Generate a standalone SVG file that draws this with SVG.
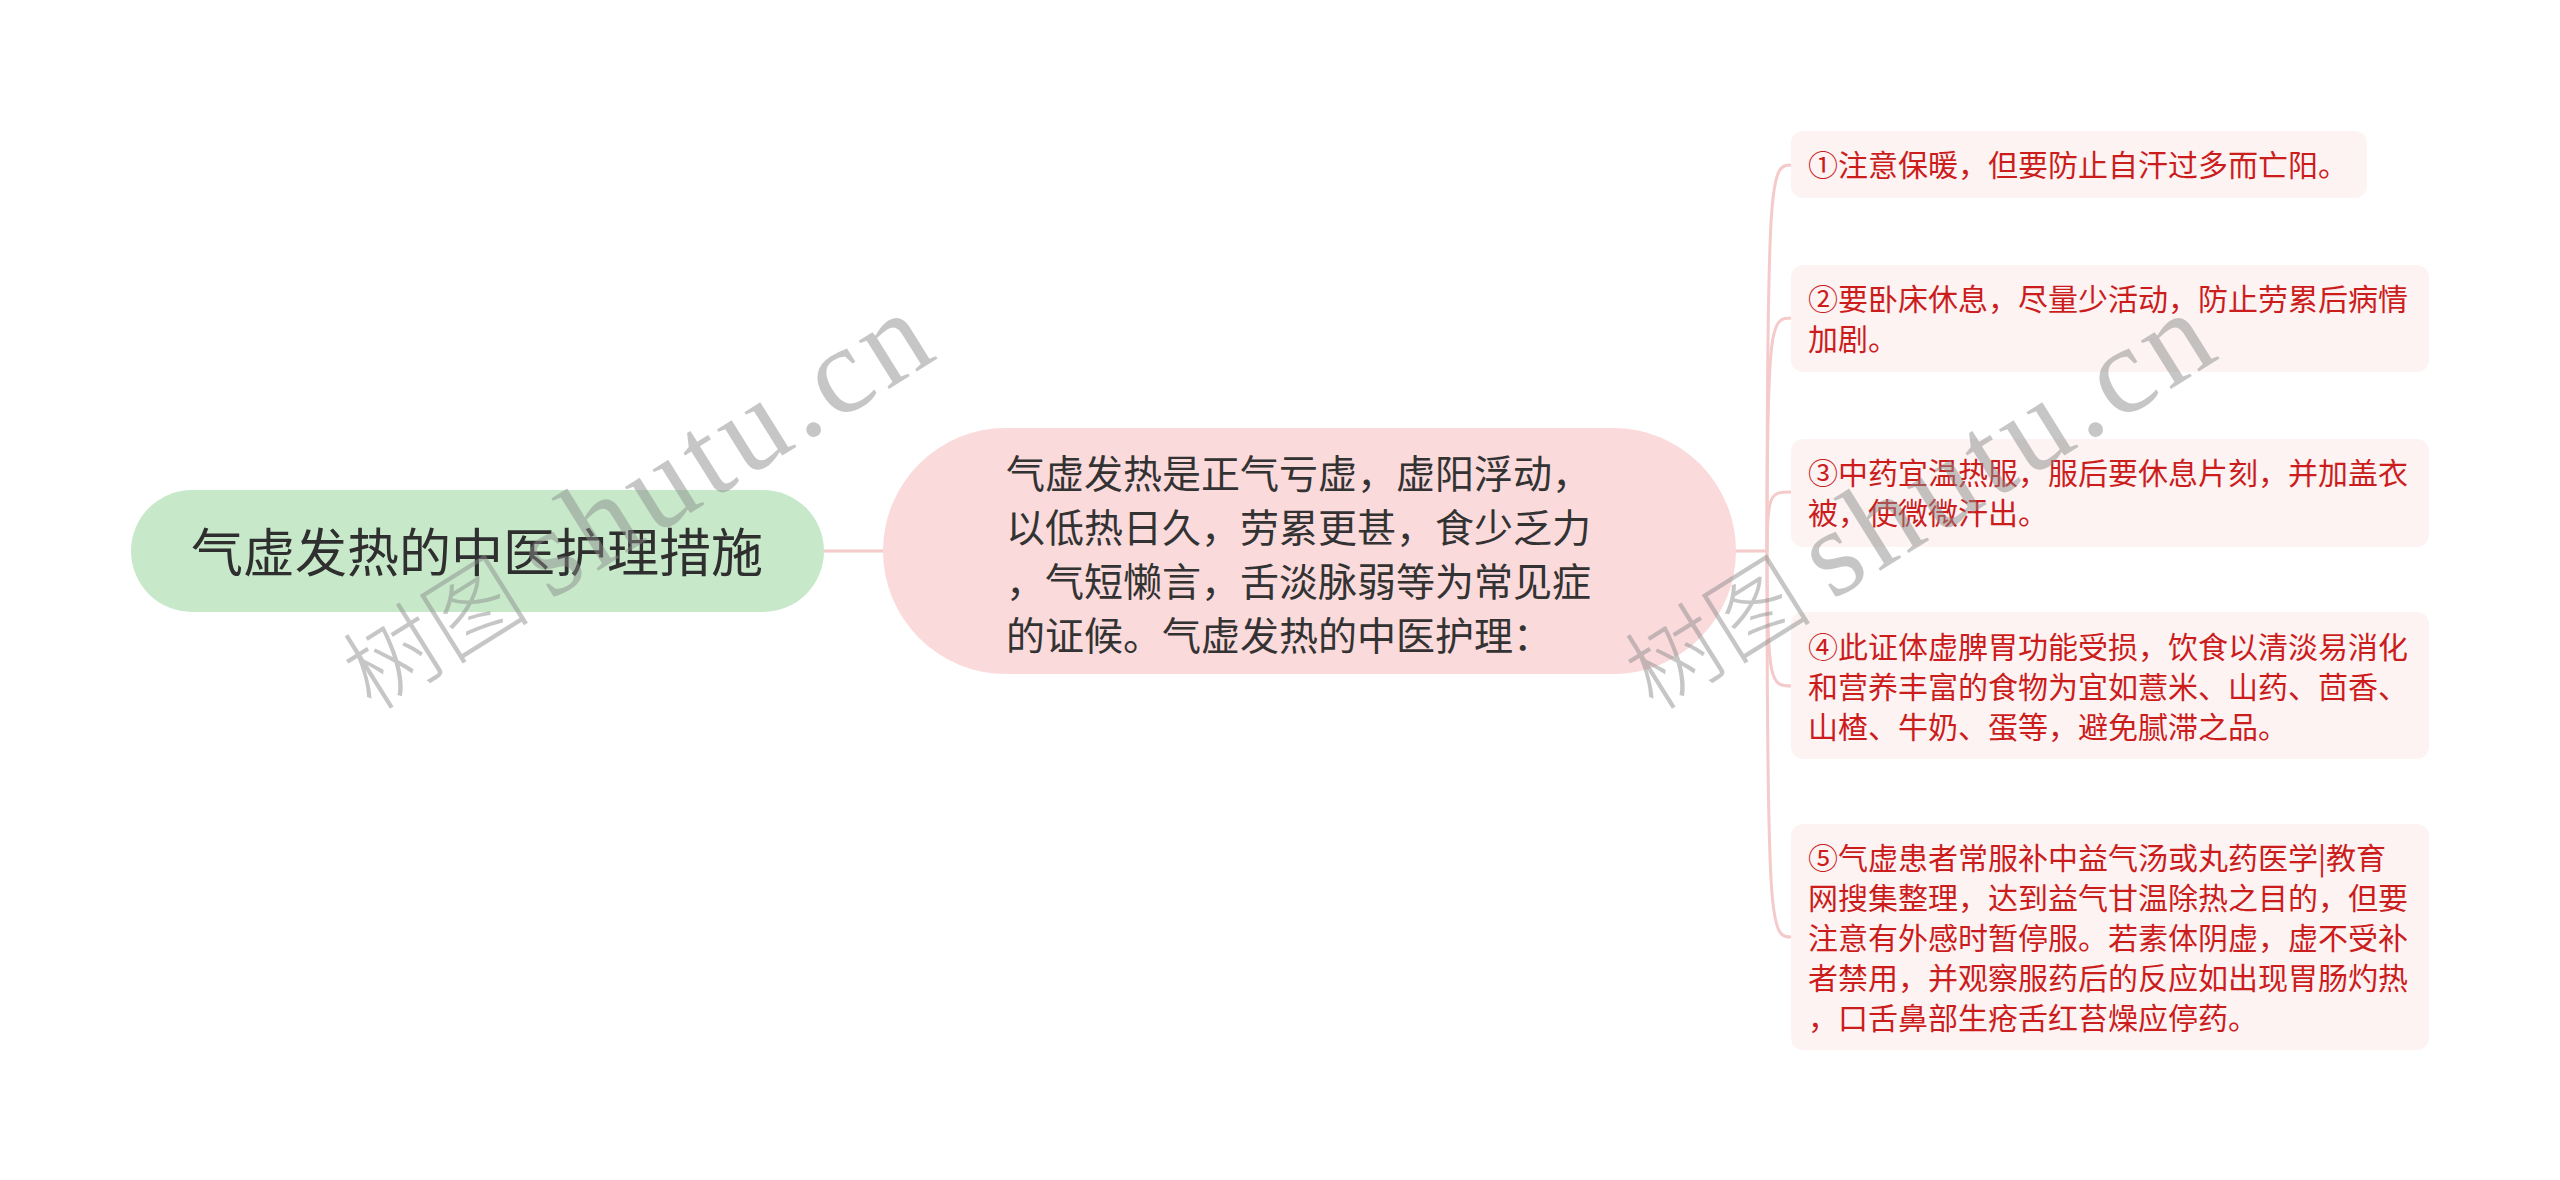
<svg xmlns="http://www.w3.org/2000/svg" width="2560" height="1180" viewBox="0 0 2560 1180">
<style>
.cjk{font-family:"Noto Sans CJK SC","Noto Sans",sans-serif;}
.root-t{font-size:52px;fill:#2f2f2f;}
.main-t{font-size:39px;fill:#333333;}
.leaf-t{font-size:30px;fill:#cc1d1d;}
.leaf{fill:#fdf3f3;}
.conn{fill:none;stroke:#f4caca;stroke-width:3;}
.wm{fill:#8a8a8a;opacity:0.48;}
</style>
<rect width="2560" height="1180" fill="#ffffff"/>
<g id="connectors">
<path class="conn" d="M824 551 H884"/>
<path class="conn" d="M1734 551 H1767"/>
<path class="conn" d="M1767 551 C1767 165 1771 165 1792 165"/>
<path class="conn" d="M1767 551 C1767 318 1771 318 1792 318"/>
<path class="conn" d="M1767 551 C1767 492 1771 492 1792 492"/>
<path class="conn" d="M1767 551 C1767 686 1771 686 1792 686"/>
<path class="conn" d="M1767 551 C1767 937 1771 937 1792 937"/>
</g>
<g id="root">
<rect x="131" y="490" width="693" height="122" rx="61" fill="#c7e9ca"/>
<text class="cjk root-t" x="477" y="572" text-anchor="middle">气虚发热的中医护理措施</text>
</g>
<g id="main">
<rect x="883" y="428" width="853" height="246" rx="123" fill="#fadadb"/>
<text class="cjk main-t">
<tspan x="1006" y="488">气虚发热是正气亏虚，虚阳浮动，</tspan>
<tspan x="1006" y="542">以低热日久，劳累更甚，食少乏力</tspan>
<tspan x="1006" y="596">，气短懒言，舌淡脉弱等为常见症</tspan>
<tspan x="1006" y="650">的证候。气虚发热的中医护理：</tspan>
</text>
</g>
<g id="item1">
<rect class="leaf" x="1791" y="131" width="576" height="67" rx="12"/>
<text class="cjk leaf-t" x="1808" y="176">①注意保暖，但要防止自汗过多而亡阳。</text>
</g>
<g id="item2">
<rect class="leaf" x="1791" y="265" width="638" height="107" rx="12"/>
<text class="cjk leaf-t">
<tspan x="1808" y="310">②要卧床休息，尽量少活动，防止劳累后病情</tspan>
<tspan x="1808" y="350">加剧。</tspan>
</text>
</g>
<g id="item3">
<rect class="leaf" x="1791" y="439" width="638" height="108" rx="12"/>
<text class="cjk leaf-t">
<tspan x="1808" y="484">③中药宜温热服，服后要休息片刻，并加盖衣</tspan>
<tspan x="1808" y="524">被，使微微汗出。</tspan>
</text>
</g>
<g id="item4">
<rect class="leaf" x="1791" y="612" width="638" height="147" rx="12"/>
<text class="cjk leaf-t">
<tspan x="1808" y="658">④此证体虚脾胃功能受损，饮食以清淡易消化</tspan>
<tspan x="1808" y="698">和营养丰富的食物为宜如薏米、山药、茴香、</tspan>
<tspan x="1808" y="738">山楂、牛奶、蛋等，避免腻滞之品。</tspan>
</text>
</g>
<g id="item5">
<rect class="leaf" x="1791" y="824" width="638" height="226" rx="12"/>
<text class="cjk leaf-t">
<tspan x="1808" y="869">⑤气虚患者常服补中益气汤或丸药医学|教育</tspan>
<tspan x="1808" y="909">网搜集整理，达到益气甘温除热之目的，但要</tspan>
<tspan x="1808" y="949">注意有外感时暂停服。若素体阴虚，虚不受补</tspan>
<tspan x="1808" y="989">者禁用，并观察服药后的反应如出现胃肠灼热</tspan>
<tspan x="1808" y="1029">，口舌鼻部生疮舌红苔燥应停药。</tspan>
</text>
</g>
<g id="watermark1" transform="translate(372,712) rotate(-32)">
<text class="cjk wm" x="0" y="0" font-size="94" font-weight="300">树图</text>
<text class="wm" x="210" y="0" font-size="124" font-family="'Liberation Serif',serif" letter-spacing="6">shutu.cn</text>
</g>
<g id="watermark2" transform="translate(1654,712) rotate(-32)">
<text class="cjk wm" x="0" y="0" font-size="94" font-weight="300">树图</text>
<text class="wm" x="210" y="0" font-size="124" font-family="'Liberation Serif',serif" letter-spacing="6">shutu.cn</text>
</g>
</svg>
